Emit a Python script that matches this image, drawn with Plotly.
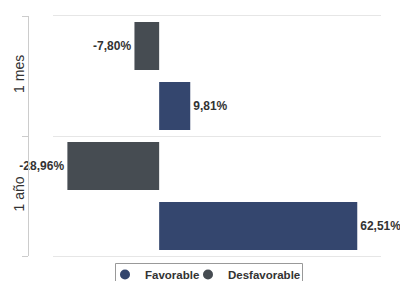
import plotly.graph_objects as go

categories = ["1 mes", "1 año"]
favorable = [9.81, 62.51]
desfavorable = [-7.80, -28.96]
series_names = ["Favorable", "Desfavorable"]
colors = {"Favorable": "#34466e", "Desfavorable": "#464c52"}

cat_order = list(reversed(categories))
font_family = "Liberation Sans, Arial, sans-serif"

fig = go.Figure()

fig.add_trace(go.Bar(
    name="Desfavorable", x=desfavorable, y=categories, orientation="h",
    marker=dict(color=colors["Desfavorable"], line=dict(width=0)),
    width=0.4, offset=0.05,
    texttemplate="%{x:.2f}%", textposition="outside", cliponaxis=False,
    textfont=dict(family=font_family, size=12, color="#333333", weight="bold"),
    showlegend=False,
))
fig.add_trace(go.Bar(
    name="Favorable", x=favorable, y=categories, orientation="h",
    marker=dict(color=colors["Favorable"], line=dict(width=0)),
    width=0.4, offset=-0.45,
    texttemplate="%{x:.2f}%", textposition="outside", cliponaxis=False,
    textfont=dict(family=font_family, size=12, color="#333333", weight="bold"),
    showlegend=False,
))

# legend-only entries with circle symbols (one legend each, for tight spacing)
legend_ids = {"Favorable": "legend", "Desfavorable": "legend2"}
for name in series_names:
    fig.add_trace(go.Scatter(
        x=[None], y=[None], mode="markers", name=name,
        marker=dict(symbol="circle", size=10, color=colors[name]),
        showlegend=True, hoverinfo="skip", legend=legend_ids[name],
    ))

# invisible trace carrying the offset category axis
fig.add_trace(go.Scatter(
    x=[0, 0], y=categories, yaxis="y2", mode="markers",
    marker=dict(opacity=0), showlegend=False, hoverinfo="skip",
))

PW, PH, ML, MB = 353, 240, 28, 25


def px_x(px):
    return (px - ML) / PW


def px_y(py):
    return (281 - MB - py) / PH


legend_common = dict(
    orientation="h", xanchor="left", yanchor="top", y=px_y(260),
    borderwidth=0, bgcolor="rgba(0,0,0,0)",
    font=dict(family=font_family, size=11.5, color="#333333", weight="bold"),
    itemwidth=30,
)

fig.update_layout(
    width=400, height=281,
    margin=dict(l=ML, r=19, t=16, b=MB, autoexpand=False),
    paper_bgcolor="white", plot_bgcolor="white",
    separators=",.",
    font=dict(family=font_family, color="#333333"),
    barmode="overlay",
    xaxis=dict(
        domain=[25 / PW, 1], range=[-33.5, 70],
        showgrid=False, zeroline=False,
        showline=True, mirror=True, linecolor="#e6e6e6", linewidth=1,
        showticklabels=False, ticks="",
    ),
    yaxis=dict(
        type="category", categoryorder="array", categoryarray=cat_order,
        range=[-0.5, 1.5], tickson="boundaries",
        showgrid=True, gridcolor="#e6e6e6", gridwidth=1,
        showticklabels=False, ticks="", showline=False, zeroline=False,
    ),
    yaxis2=dict(
        type="category", categoryorder="array", categoryarray=cat_order,
        range=[-0.5, 1.5], overlaying="y", anchor="free", position=0,
        side="left", tickson="boundaries",
        showgrid=False, showline=True, linecolor="#cccccc", linewidth=1,
        ticks="outside", ticklen=6, tickcolor="#cccccc", tickwidth=1,
        tickangle=-90, ticklabelstandoff=-2,
        tickfont=dict(family=font_family, size=14, color="#333333"),
        automargin=False,
    ),
    legend=dict(legend_common, x=px_x(105)),
    legend2=dict(legend_common, x=px_x(188)),
    shapes=[dict(
        type="rect", xref="paper", yref="paper",
        x0=px_x(115.5), x1=px_x(302.5), y0=px_y(292), y1=px_y(263.5),
        line=dict(color="#999999", width=1), fillcolor="rgba(0,0,0,0)",
        layer="below",
    )],
)

fig.write_html(
    "out.html",
    config={"displayModeBar": False},
    post_script="document.body.style.margin='0';document.body.style.overflow='hidden';",
)
